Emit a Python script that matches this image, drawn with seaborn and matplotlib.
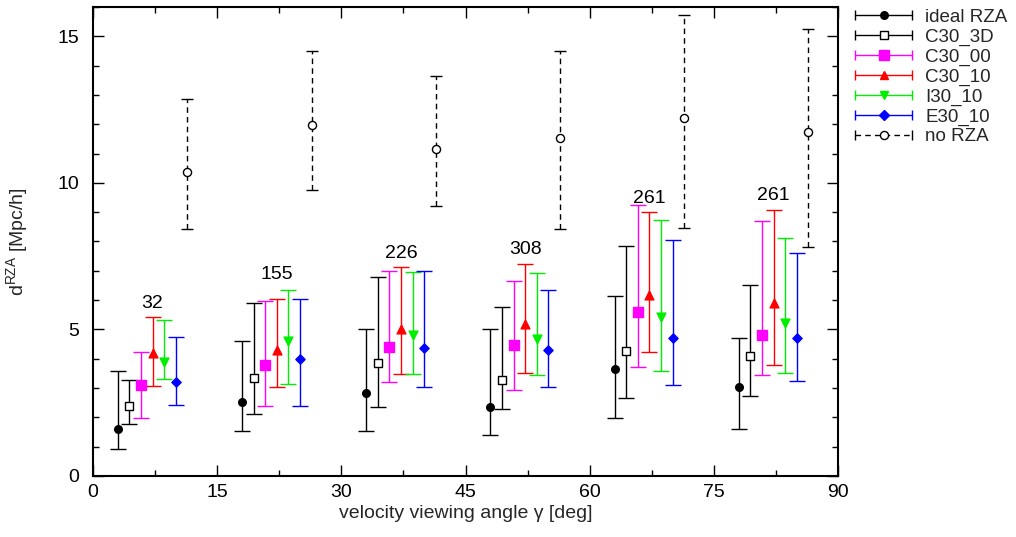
import numpy as np
import pandas as pd
import matplotlib
matplotlib.use("Agg")
import matplotlib.pyplot as plt
import seaborn as sns
from matplotlib.lines import Line2D
from matplotlib.legend_handler import HandlerBase
from matplotlib.ticker import MultipleLocator

# ---------------- data ----------------
group_base = [3, 18, 33, 48, 63, 78]          # angle of first member in each group
member_step = 1.4                              # horizontal offset between members
series_names = ["ideal RZA", "C30_3D", "C30_00", "C30_10", "I30_10", "E30_10", "no RZA"]

ideal_val = [1.60, 2.54, 2.83, 2.34, 3.65, 3.02]
ideal_lo  = [0.92, 1.54, 1.53, 1.41, 1.97, 1.62]
ideal_hi  = [3.58, 4.61, 5.00, 5.00, 6.13, 4.72]

c3d_val = [2.39, 3.34, 3.85, 3.29, 4.25, 4.09]
c3d_lo  = [1.78, 2.10, 2.34, 2.29, 2.66, 2.73]
c3d_hi  = [3.29, 5.90, 6.78, 5.78, 7.83, 6.50]

c00_val = [3.11, 3.79, 4.40, 4.47, 5.61, 4.80]
c00_lo  = [1.97, 2.40, 3.19, 2.95, 3.73, 3.44]
c00_hi  = [4.22, 5.96, 6.98, 6.64, 9.26, 8.70]

c10_val = [4.18, 4.29, 5.00, 5.20, 6.16, 5.91]
c10_lo  = [3.06, 3.02, 3.48, 3.51, 4.22, 3.80]
c10_hi  = [5.43, 6.03, 7.12, 7.22, 8.99, 9.06]

i10_val = [3.90, 4.59, 4.82, 4.67, 5.42, 5.21]
i10_lo  = [3.31, 3.13, 3.48, 3.46, 3.59, 3.50]
i10_hi  = [5.32, 6.35, 6.97, 6.92, 8.75, 8.12]

e10_val = [3.22, 3.99, 4.36, 4.31, 4.72, 4.70]
e10_lo  = [2.41, 2.38, 3.03, 3.04, 3.12, 3.23]
e10_hi  = [4.74, 6.04, 6.98, 6.33, 8.04, 7.61]

norza_val = [10.37, 11.97, 11.17, 11.53, 12.20, 11.73]
norza_lo  = [8.41, 9.77, 9.21, 8.41, 8.46, 7.80]
norza_hi  = [12.87, 14.51, 13.64, 14.51, 15.74, 15.24]

group_counts = ["32", "155", "226", "308", "261", "261"]
count_label_y = [5.90, 6.87, 7.60, 7.71, 9.48, 9.56]

xticks = [0, 15, 30, 45, 60, 75, 90]
yticks = [0, 5, 10, 15]

# ---------------- style ----------------
sns.set_theme(style="ticks")
plt.rcParams["font.family"] = ["Liberation Sans", "DejaVu Sans"]
plt.rcParams["mathtext.fontset"] = "custom"
plt.rcParams["mathtext.rm"] = "Liberation Sans"
plt.rcParams["mathtext.it"] = "Liberation Sans:italic"

FS = 14

series = [
    dict(val=ideal_val, lo=ideal_lo, hi=ideal_hi, color="black", marker="o", ms=30, face="black", ls="-", cap=6),
    dict(val=c3d_val, lo=c3d_lo, hi=c3d_hi, color="black", marker="s", ms=36, face="white", ls="-", cap=6),
    dict(val=c00_val, lo=c00_lo, hi=c00_hi, color="#ff00ff", marker="s", ms=48, face="#ff00ff", ls="-", cap=6),
    dict(val=c10_val, lo=c10_lo, hi=c10_hi, color="#ff0000", marker="^", ms=40, face="#ff0000", ls="-", cap=6),
    dict(val=i10_val, lo=i10_lo, hi=i10_hi, color="#00ee00", marker="v", ms=40, face="#00ee00", ls="-", cap=6),
    dict(val=e10_val, lo=e10_lo, hi=e10_hi, color="#0000ff", marker="D", ms=22, face="#0000ff", ls="-", cap=6),
    dict(val=norza_val, lo=norza_lo, hi=norza_hi, color="black", marker="o", ms=34, face="white", ls="--", cap=4),
]

fig = plt.figure(figsize=(10.16, 5.37), dpi=100)
ax = fig.add_axes([0.0915, 0.1136, 0.7335, 0.8734])

handles = []
for k, (name, s) in enumerate(zip(series_names, series)):
    x = np.array(group_base) + k * member_step
    y = np.array(s["val"])
    lo = np.array(s["lo"])
    hi = np.array(s["hi"])
    eb = ax.errorbar(x, y, yerr=[y - lo, hi - y], fmt="none", ecolor=s["color"],
                     elinewidth=1.0, capsize=s["cap"], capthick=1.0, zorder=2)
    if s["ls"] != "-":
        eb[2][0].set_linestyle((0, (4, 3)))
    df = pd.DataFrame({"angle": x, "d": y})
    sns.scatterplot(data=df, x="angle", y="d", marker=s["marker"], s=s["ms"],
                    color=s["face"], edgecolor=s["color"], linewidth=1.0,
                    ax=ax, zorder=3, legend=False)
    handles.append(Line2D([], [], color=s["color"], linestyle=s["ls"], marker=s["marker"],
                          markerfacecolor=s["face"], markeredgecolor=s["color"],
                          markersize=np.sqrt(s["ms"]), label=name))

# count annotations above each group (centered on C30_10 column)
for b, txt, ty in zip(group_base, group_counts, count_label_y):
    ax.text(b + 3 * member_step, ty, txt, ha="center", va="center", fontsize=FS, color="black")


class HandlerGP(HandlerBase):
    def create_artists(self, legend, orig, xdescent, ydescent, width, height, fontsize, trans):
        yc = height / 2 - ydescent
        x0, x1 = -xdescent, width - xdescent
        ls = orig.get_linestyle()
        line = Line2D([x0, x1], [yc, yc], color=orig.get_color(),
                      linestyle=(0, (4, 3)) if ls == "--" else "-", lw=1.0)
        caps = Line2D([x0, x1], [yc, yc], linestyle="none", marker="|", markersize=7,
                      markeredgewidth=1.0, color=orig.get_color())
        mk = Line2D([(x0 + x1) / 2], [yc], linestyle="none", marker=orig.get_marker(),
                    markersize=orig.get_markersize(), markerfacecolor=orig.get_markerfacecolor(),
                    markeredgecolor=orig.get_markeredgecolor(), markeredgewidth=1.0)
        for a in (line, caps, mk):
            a.set_transform(trans)
        return [line, caps, mk]


leg = ax.legend(handles=handles, loc="upper left", bbox_to_anchor=(1.0228, 0.996),
                frameon=False, fontsize=13.5, handlelength=3.04, handletextpad=0.69,
                labelspacing=0.14, borderaxespad=0.0, borderpad=0.0,
                handler_map={Line2D: HandlerGP()})

ax.set_xlim(0, 90)
ax.set_ylim(0, 16)
ax.set_xticks(xticks)
ax.set_yticks(yticks)
ax.xaxis.set_minor_locator(MultipleLocator(7.5))
ax.yaxis.set_minor_locator(MultipleLocator(1))
ax.tick_params(which="both", direction="in", top=True, right=True, labelsize=FS, colors="black")
ax.tick_params(axis="y", pad=10)
ax.tick_params(axis="x", pad=6)
ax.tick_params(which="major", length=8, width=1.0)
ax.tick_params(which="minor", length=4.5, width=1.0)
for sp in ax.spines.values():
    sp.set_visible(True)
    sp.set_linewidth(1.5)
    sp.set_color("black")

ax.set_xlabel("velocity viewing angle γ [deg]", fontsize=FS)
ax.set_ylabel("d$^{\\mathrm{RZA}}$ [Mpc/h]", fontsize=FS)
ax.xaxis.set_label_coords(0.5, -0.062)
ax.yaxis.set_label_coords(-0.084, 0.5)

fig.savefig("out.png", dpi=100)
